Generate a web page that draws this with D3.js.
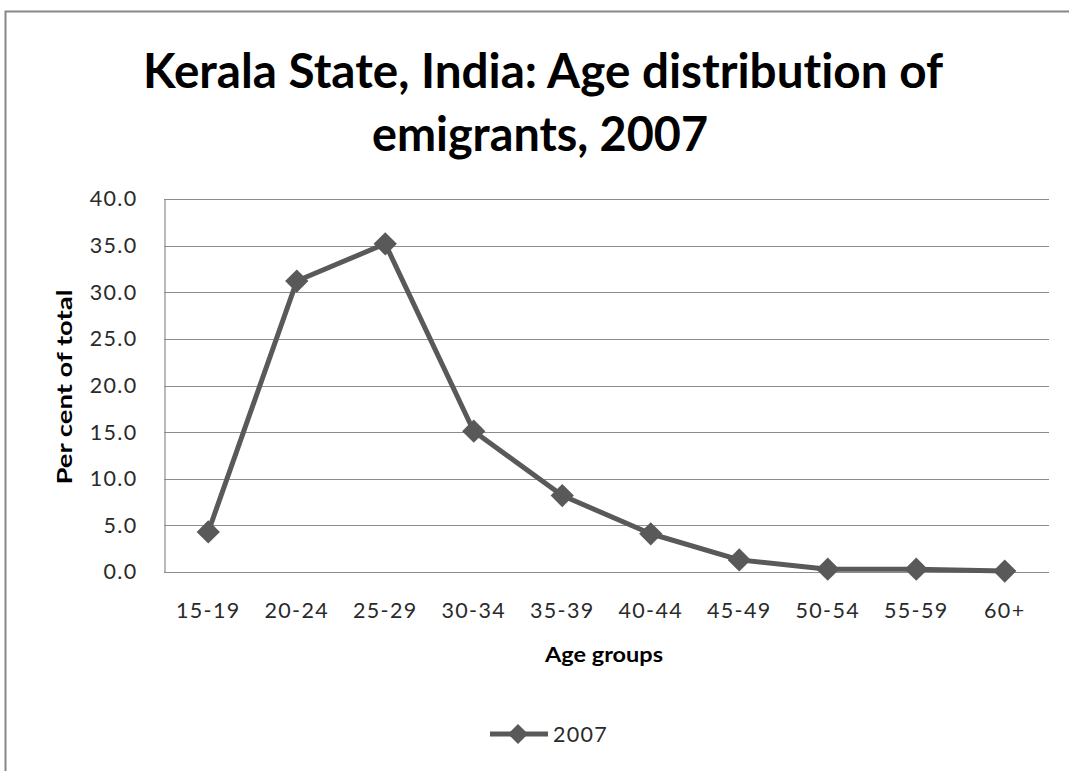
<!DOCTYPE html>
<html><head><meta charset="utf-8">
<script src="https://cdn.jsdelivr.net/npm/d3@7"></script>
<style>body{margin:0;background:#fff}svg{display:block}text{font-variant-ligatures:none}</style>
</head><body>
<script>
const categories = ["15-19","20-24","25-29","30-34","35-39","40-44","45-49","50-54","55-59","60+"];
const values2007 = [4.3, 31.2, 35.2, 15.1, 8.2, 4.1, 1.3, 0.3, 0.3, 0.1];
const yTicks = [0,5,10,15,20,25,30,35,40];
const seriesName = "2007";
const titleLines = ["Kerala State, India: Age distribution of","emigrants, 2007"];

(function(){
const W = 1069, H = 771;
const svg = d3.select("body").append("svg").attr("width", W).attr("height", H);
const font = "Lato, 'Open Sans', sans-serif";

// outer frame
svg.append("rect").attr("x",5.5).attr("y",11.5).attr("width",W+20).attr("height",H+20)
  .attr("fill","none").attr("stroke","#878787").attr("stroke-width",2);

const pL = 164, pR = 1049, pT = 199, pB = 572;
const x = d3.scaleBand().domain(categories).range([pL, pR]);
const y = d3.scaleLinear().domain([0,40]).range([pB, pT]);

// title
const tSpec = [{cx:543, by:88, w:800},{cx:540, by:151, w:336}];
titleLines.forEach((t,i)=>{
  svg.append("text").attr("x", tSpec[i].cx).attr("y", tSpec[i].by).attr("text-anchor","middle")
    .attr("font-family", font).attr("font-weight","bold").attr("font-size",47)
    .attr("textLength", tSpec[i].w).attr("lengthAdjust","spacingAndGlyphs")
    .attr("fill","#000").text(t);
});

// gridlines
svg.append("g").selectAll("line").data(yTicks).join("line")
  .attr("x1", pL).attr("x2", pR).attr("y1", d=>Math.round(y(d))+0.5).attr("y2", d=>Math.round(y(d))+0.5)
  .attr("stroke","#8c8c8c").attr("stroke-width",1.2);

// y axis
const yAxis = d3.axisLeft(y).tickValues(yTicks).tickFormat(d3.format(".1f")).tickSize(0).tickPadding(27);
const ya = svg.append("g").attr("transform",`translate(${pL+0.5},0)`).call(yAxis);
ya.select(".domain").attr("stroke","#8c8c8c").attr("stroke-width",1.2);
ya.selectAll("text").attr("font-family",font).attr("font-size",21.5).attr("letter-spacing","1.3px").attr("fill","#2a2a2a");

// x axis
const xAxis = d3.axisBottom(x).tickSize(0).tickPadding(31);
const xa = svg.append("g").attr("transform",`translate(0,${pB})`).call(xAxis);
xa.select(".domain").remove();
xa.selectAll("text").attr("font-family",font).attr("font-size",21.5).attr("letter-spacing","1.3px").attr("fill","#2a2a2a");

// axis titles
svg.append("text").attr("transform","translate(72,387) rotate(-90)").attr("text-anchor","middle")
  .attr("font-family",font).attr("font-weight","bold").attr("font-size",21)
  .attr("textLength",195).attr("lengthAdjust","spacingAndGlyphs").text("Per cent of total");
svg.append("text").attr("x",604).attr("y",662).attr("text-anchor","middle")
  .attr("font-family",font).attr("font-weight","bold").attr("font-size",21)
  .attr("textLength",118).attr("lengthAdjust","spacingAndGlyphs").text("Age groups");

// line
const cx = d => x(d) + x.bandwidth()/2;
const line = d3.line().x((d,i)=>cx(categories[i])).y(d=>y(d));
svg.append("path").datum(values2007).attr("d", line).attr("fill","none")
  .attr("stroke","#595959").attr("stroke-width",5).attr("stroke-linejoin","round");

svg.append("g").selectAll("path").data(values2007).join("path")
  .attr("d", d3.symbol().type(d3.symbolSquare).size(270)())
  .attr("transform",(d,i)=>`translate(${cx(categories[i])},${y(d)}) rotate(45)`)
  .attr("fill","#595959");

// legend
const lg = svg.append("g");
lg.append("line").attr("x1",490).attr("x2",548).attr("y1",734).attr("y2",734)
  .attr("stroke","#595959").attr("stroke-width",5);
lg.append("path").attr("d", d3.symbol().type(d3.symbolSquare).size(200)())
  .attr("transform","translate(518,734) rotate(45)").attr("fill","#595959");
lg.append("text").attr("x",553).attr("y",742).attr("font-family",font).attr("font-size",21.5)
  .attr("letter-spacing","1.3px").attr("fill","#2a2a2a").text(seriesName);
})();
</script>
</body></html>
